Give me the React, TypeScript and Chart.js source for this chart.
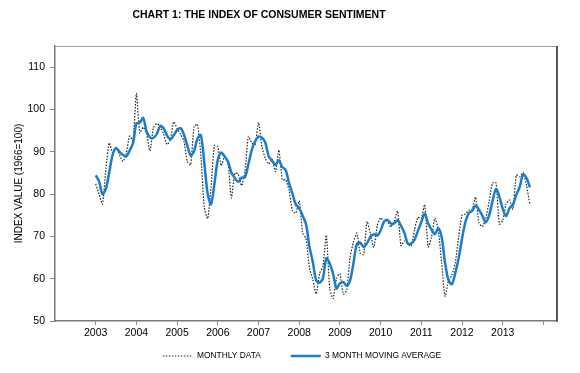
import React, { useEffect, useRef } from 'react';
import { Chart, registerables } from 'chart.js';

Chart.register(...registerables);

// First month of the series (Jan 2003); one value per month through Sep 2013
const startYear = 2003;

const monthlyData = [
  82.4, 79.9, 77.6, 86.0, 92.1, 89.7, 90.9, 89.3, 87.7, 89.6, 93.7, 92.6,
  103.8, 94.4, 95.8, 94.2, 90.2, 95.6, 96.7, 95.9, 94.2, 91.7, 92.8, 97.1,
  95.5, 94.1, 92.6, 87.7, 86.9, 96.0, 96.5, 89.1, 76.9, 74.2, 81.6, 91.5,
  91.2, 86.7, 88.9, 87.4, 79.1, 84.9, 84.7, 82.0, 85.4, 93.6, 92.1, 91.7,
  96.9, 91.3, 88.4, 87.1, 88.3, 85.3, 90.4, 83.4, 83.4, 80.9, 76.1, 75.5,
  78.4, 70.8, 69.5, 62.6, 59.8, 56.4, 61.2, 63.0, 70.3, 57.6, 55.3, 60.1,
  61.2, 56.3, 57.3, 65.1, 68.7, 70.8, 66.0, 65.7, 73.5, 70.6, 67.4, 72.5,
  74.4, 73.6, 73.6, 72.2, 73.6, 76.0, 67.8, 68.9, 68.2, 67.7, 71.6, 74.5,
  74.2, 77.5, 67.5, 69.8, 74.3, 71.5, 63.7, 55.8, 59.5, 60.8, 63.7, 69.9,
  75.0, 75.3, 76.2, 76.4, 79.3, 73.2, 72.3, 74.3, 78.3, 82.6, 82.7, 72.9,
  73.8, 77.6, 78.6, 76.4, 84.5, 84.1, 85.1, 82.1, 77.5,
];

const movingAverage = [
  84.4, 83.0, 80.0, 81.2, 85.2, 89.3, 90.9, 90.0, 89.3, 88.9, 90.3, 92.0,
  96.7, 96.9, 98.0, 94.8, 93.4, 93.3, 94.2, 96.1, 95.6, 93.9, 92.9, 93.9,
  95.1, 95.6, 94.1, 91.5, 89.1, 90.2, 93.1, 93.9, 87.5, 80.1, 77.6, 82.4,
  88.1, 89.8, 88.9, 87.7, 85.1, 83.8, 82.9, 83.9, 84.0, 87.0, 90.4, 92.5,
  93.6, 93.3, 92.2, 88.9, 87.9, 86.9, 88.0, 86.4, 85.7, 82.6, 80.1, 77.5,
  76.7, 74.9, 72.9, 67.6, 64.0, 59.6, 59.1, 60.2, 64.8, 63.6, 61.1, 57.7,
  58.9, 59.2, 58.3, 59.6, 63.7, 68.2, 68.5, 67.5, 68.4, 69.9, 70.5, 70.2,
  71.4, 73.5, 73.9, 73.1, 73.1, 73.9, 72.5, 70.9, 68.3, 68.3, 69.2, 71.3,
  73.4, 75.4, 73.1, 71.6, 70.5, 71.9, 69.8, 63.7, 59.7, 58.7, 61.3, 64.8,
  69.5, 73.4, 75.5, 76.0, 77.3, 76.3, 74.9, 73.3, 75.0, 78.4, 81.2, 79.4,
  76.5, 74.8, 76.7, 77.5, 79.8, 81.7, 84.6, 83.8, 81.6,
];

const yTicks = [50, 60, 70, 80, 90, 100, 110];
const xTicks = [2003, 2004, 2005, 2006, 2007, 2008, 2009, 2010, 2011, 2012, 2013, 2014];
const xTickLabels = ['2003', '2004', '2005', '2006', '2007', '2008', '2009', '2010', '2011', '2012', '2013', ''];
const seriesLabels = ['MONTHLY DATA', '3 MONTH MOVING AVERAGE'];
const chartTitle = 'CHART 1: THE INDEX OF CONSUMER SENTIMENT';
const yAxisTitle = 'INDEX VALUE (1966=100)';

const FONT = '"Liberation Sans", Arial, Helvetica, sans-serif';

export default function App() {
  const ref = useRef<HTMLCanvasElement>(null);

  useEffect(() => {
    if (!ref.current) return;
    const toPoints = (arr: number[]) => arr.map((v, i) => ({ x: startYear + i / 12, y: v }));

    const decorations = {
      id: 'decorations',
      afterDraw(chart: any) {
        const ctx = chart.ctx;
        const a = chart.chartArea;
        ctx.save();
        // plot frame (top and right edges)
        ctx.strokeStyle = '#a0a0a0';
        ctx.lineWidth = 1;
        ctx.beginPath();
        ctx.moveTo(a.left, a.top + 0.5);
        ctx.lineTo(a.right, a.top + 0.5);
        ctx.stroke();
        ctx.strokeStyle = '#555';
        ctx.lineWidth = 2;
        ctx.beginPath();
        ctx.moveTo(a.right, a.top);
        ctx.lineTo(a.right, a.bottom + 0.75);
        ctx.stroke();

        // chart title
        ctx.fillStyle = '#000';
        ctx.textAlign = 'center';
        ctx.textBaseline = 'middle';
        ctx.font = `bold 10.5px ${FONT}`;
        ctx.fillText(chartTitle, 259, 15);

        // legend
        const fs = 8.4;
        const lineLen = 30;
        const gap = 30;
        ctx.font = `${fs}px ${FONT}`;
        const dsets = chart.data.datasets;
        const widths = dsets.map((d: any) => lineLen + fs / 2 + ctx.measureText(d.label).width);
        const total = widths.reduce((s: number, w: number) => s + w, 0) + gap * (dsets.length - 1);
        let lx = 302 - total / 2;
        const ly = 356;
        dsets.forEach((d: any, i: number) => {
          ctx.save();
          ctx.strokeStyle = d.borderColor;
          ctx.lineWidth = d.borderWidth;
          ctx.setLineDash(d.borderDash || []);
          ctx.beginPath();
          ctx.moveTo(lx, ly);
          ctx.lineTo(lx + lineLen, ly);
          ctx.stroke();
          ctx.restore();
          ctx.fillStyle = '#000';
          ctx.textAlign = 'left';
          ctx.textBaseline = 'middle';
          ctx.fillText(d.label, lx + lineLen + fs / 2, ly);
          lx += widths[i] + gap;
        });

        // y-axis title
        ctx.translate(19, (a.top + a.bottom) / 2);
        ctx.rotate(-Math.PI / 2);
        ctx.textAlign = 'center';
        ctx.font = `10px ${FONT}`;
        ctx.fillText(yAxisTitle, 0, 0);
        ctx.restore();
      },
    };

    const chart = new Chart(ref.current, {
      type: 'line',
      data: {
        datasets: [
          {
            label: seriesLabels[0],
            data: toPoints(monthlyData),
            borderColor: '#222',
            backgroundColor: '#222',
            borderWidth: 1.2,
            borderDash: [1.5, 1.5],
            pointRadius: 0,
            tension: 0.2,
            order: 2,
          },
          {
            label: seriesLabels[1],
            data: toPoints(movingAverage),
            borderColor: '#1a7dcc',
            backgroundColor: '#1a7dcc',
            borderWidth: 2.5,
            pointRadius: 0,
            tension: 0.3,
            order: 1,
          },
        ],
      },
      options: {
        animation: false,
        responsive: false,
        devicePixelRatio: 1,
        layout: { padding: { left: 25, right: 23, top: 46, bottom: 32 } },
        plugins: {
          title: { display: false },
          tooltip: { enabled: false },
          legend: { display: false },
        },
        scales: {
          x: {
            type: 'linear',
            min: 2002,
            max: 2014 + 4 / 12,
            afterFit: (s: any) => { s.height = 20; },
            afterBuildTicks: (s: any) => { s.ticks = xTicks.map((v) => ({ value: v })); },
            grid: { display: true, drawOnChartArea: false, drawTicks: true, tickLength: 4, color: '#888', lineWidth: 1 },
            border: { display: true, color: '#777', width: 1.5 },
            ticks: {
              autoSkip: false,
              maxRotation: 0,
              padding: 1.5,
              color: '#000',
              font: { family: FONT, size: 10.5 },
              callback: (v: any) => {
                const idx = xTicks.indexOf(Math.round(Number(v)));
                return idx >= 0 ? xTickLabels[idx] : '';
              },
            },
          },
          y: {
            min: 50,
            max: 115,
            afterFit: (s: any) => { s.width = 30; },
            afterBuildTicks: (s: any) => { s.ticks = yTicks.map((v) => ({ value: v })); },
            grid: { display: true, drawOnChartArea: false, drawTicks: true, tickLength: 5, color: '#888', lineWidth: 1 },
            border: { display: true, color: '#777', width: 1.5 },
            ticks: {
              padding: 5,
              color: '#000',
              font: { family: FONT, size: 10.5 },
            },
          },
        },
      },
      plugins: [decorations],
    } as any);

    return () => chart.destroy();
  }, []);

  return (
    <canvas
      ref={ref}
      width={580}
      height={373}
      style={{ position: 'absolute', left: 0, top: 0, width: 580, height: 373, background: '#fff' }}
    />
  );
}
